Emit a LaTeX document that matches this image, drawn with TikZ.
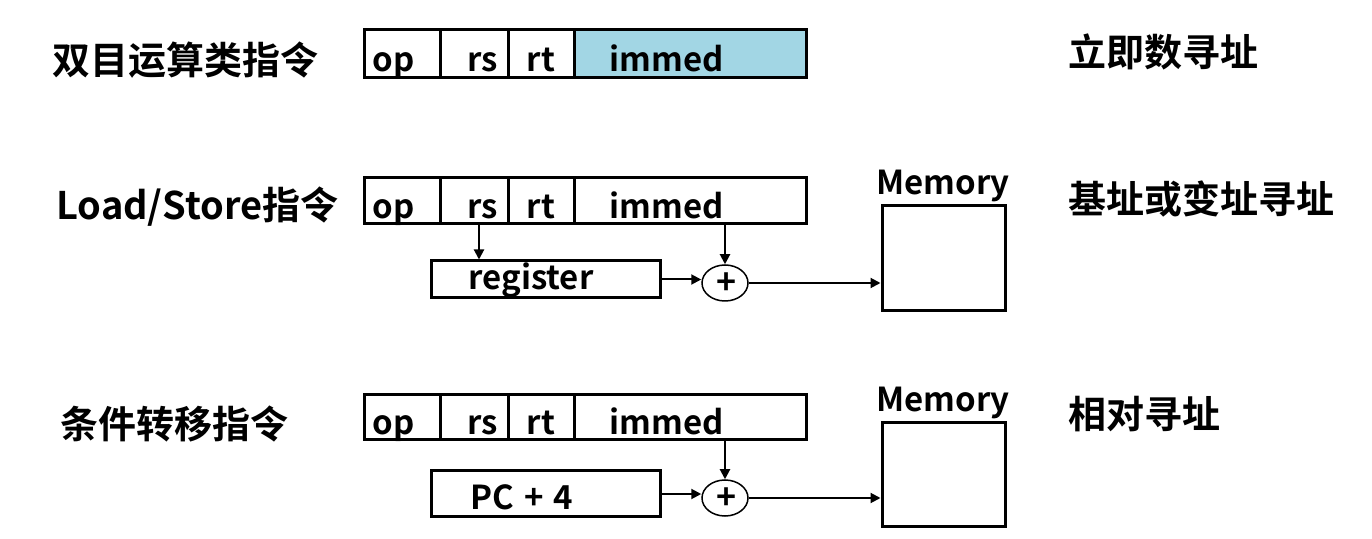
\documentclass[tikz,border=0pt]{standalone}
\usepackage{fontspec}
\setmainfont{Noto Sans CJK SC}[BoldFont={Noto Sans CJK SC Bold}]
\usetikzlibrary{arrows.meta,shapes.geometric}
\definecolor{immfill}{RGB}{162,214,228}
\begin{document}
\begin{tikzpicture}[x=0.5pt,y=-0.5pt,
  field/.style={draw,line width=1.5pt,inner sep=0pt,minimum height=#1},
  ftxt/.style={inner sep=0pt,font=\fontsize{16.5}{18}\selectfont\bfseries},
  cjklbl/.style={inner sep=0pt,anchor=west,font=\fontsize{19}{22}\selectfont\bfseries},
  regbox/.style={draw,line width=1.5pt,inner sep=0pt,minimum width=114.5pt,minimum height=18.5pt},
  membox/.style={draw,line width=1.5pt,inner sep=0pt,minimum width=61.5pt,minimum height=#1},
  adder/.style={draw,ellipse,line width=0.75pt,inner sep=0pt,minimum width=23pt,minimum height=18pt},
  plustxt/.style={inner sep=0pt,anchor=base,font=\fontsize{17}{18}\selectfont\bfseries},
  arr/.style={line width=1pt,-{Triangle[length=5pt,width=5pt]}}]
\useasboundingbox (0,0) rectangle (1372,539);
% ---------- row 1 ----------
\node[field=24pt,minimum width=38pt] (op1) at (402,54) {};
\node[field=24pt,minimum width=34pt] (rs1) at (474,54) {};
\node[field=24pt,minimum width=33pt] (rt1) at (541,54) {};
\node[field=24pt,minimum width=116pt,fill=immfill] (imm1) at (690,54) {};
\node[ftxt,anchor=base west] (top1) at (372,72) {op};
\node[ftxt,anchor=base east] (trs1) at (498,72) {rs};
\node[ftxt,anchor=base] (trt1) at (541,72) {rt};
\node[ftxt,anchor=base] (timm1) at (667,72) {immed};
\node[cjklbl] (l1) at (52,60) {双目运算类指令};
\node[cjklbl] (r1) at (1068,52) {立即数寻址};
% ---------- row 2 ----------
\node[field=23pt,minimum width=38pt] (op2) at (402,201) {};
\node[field=23pt,minimum width=34pt] (rs2) at (474,201) {};
\node[field=23pt,minimum width=33pt] (rt2) at (541,201) {};
\node[field=23pt,minimum width=116pt] (imm2) at (690,201) {};
\node[ftxt,anchor=base west] (top2) at (372,219) {op};
\node[ftxt,anchor=base east] (trs2) at (498,219) {rs};
\node[ftxt,anchor=base] (trt2) at (541,219) {rt};
\node[ftxt,anchor=base] (timm2) at (667,219) {immed};
\node[cjklbl] (l2) at (56,207) {Load/Store指令};
\node[cjklbl] (r2) at (1068,199) {基址或变址寻址};
\node[regbox] (reg2) at (545.5,279.5) {};
\node[ftxt,anchor=base] (treg2) at (531,290) {register};
\node[adder] (plus2) at (725,283) {};
\node[plustxt] (tplus2) at (727,295) {+};
\node[membox=52.5pt] (mem2) at (943.5,258.5) {};
\node[ftxt,anchor=base] (tmem2) at (943,195) {Memory};
\coordinate (rsout2) at (479,224);
\draw[arr] (rsout2) -- (rsout2 |- reg2.north);
\draw[arr] (plus2.north |- imm2.south) -- (plus2.north);
\draw[arr] (reg2.east) -- (reg2.east -| plus2.west);
\draw[arr] (plus2.east) -- (plus2.east -| mem2.west);
% ---------- row 3 ----------
\node[field=22.5pt,minimum width=38pt] (op3) at (402,417.5) {};
\node[field=22.5pt,minimum width=34pt] (rs3) at (474,417.5) {};
\node[field=22.5pt,minimum width=33pt] (rt3) at (541,417.5) {};
\node[field=22.5pt,minimum width=116pt] (imm3) at (690,417.5) {};
\node[ftxt,anchor=base west] (top3) at (372,435) {op};
\node[ftxt,anchor=base east] (trs3) at (498,435) {rs};
\node[ftxt,anchor=base] (trt3) at (541,435) {rt};
\node[ftxt,anchor=base] (timm3) at (667,435) {immed};
\node[cjklbl] (l3) at (60,424) {条件转移指令};
\node[cjklbl] (r3) at (1068,414) {相对寻址};
\node[regbox,minimum height=23pt] (pc3) at (545.5,494) {};
\node[ftxt,anchor=base] (tpc3) at (522,510) {PC\hspace{5pt}+\hspace{5pt}4};
\node[adder] (plus3) at (725,498) {};
\node[plustxt] (tplus3) at (727,510) {+};
\node[membox=52pt] (mem3) at (943.5,475) {};
\node[ftxt,anchor=base] (tmem3) at (943,412) {Memory};
\draw[arr] (plus3.north |- imm3.south) -- (plus3.north);
\draw[arr] (pc3.east) -- (pc3.east -| plus3.west);
\draw[arr] (plus3.east) -- (plus3.east -| mem3.west);
\end{tikzpicture}
\end{document}
